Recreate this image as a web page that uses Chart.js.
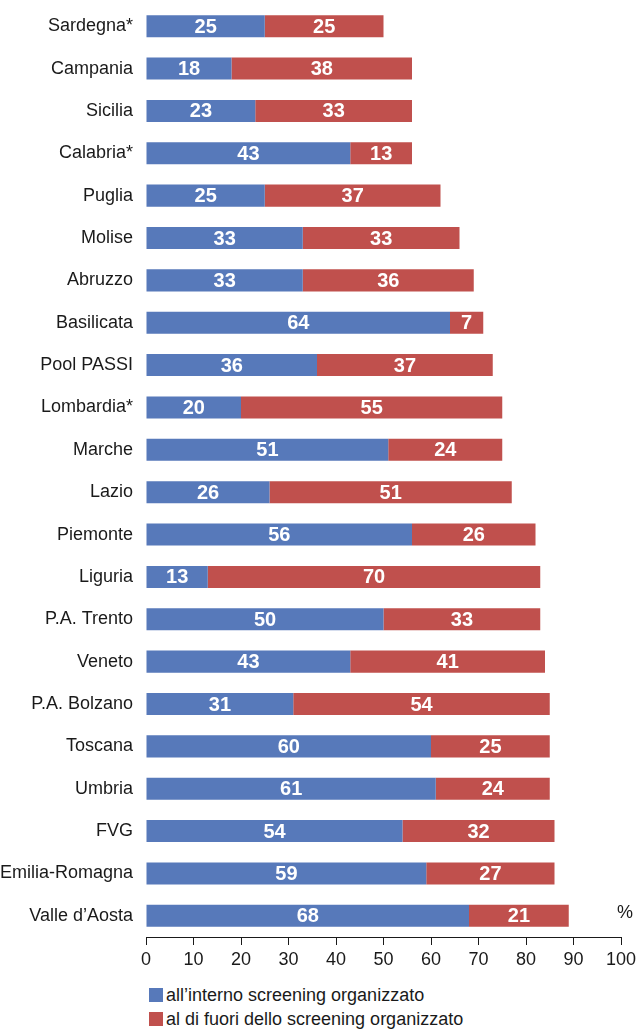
<!DOCTYPE html>
<html lang="it">
<head>
  <meta charset="UTF-8" />
  <title>Screening organizzato</title>
  <script src="https://cdn.jsdelivr.net/npm/chart.js"></script>
  <style>
    body {
      margin: 0;
      background: #fff;
      font-family: "Liberation Sans", Arial, sans-serif;
      color: #1a1a1a;
    }
    .wrap {
      position: relative;
      width: 644px;
      height: 980px;
    }
    .legend {
      position: absolute;
      left: 149px;
      top: 983px;
      font-size: 18px;
      line-height: 24px;
    }
    .legend span.box {
      display: inline-block;
      width: 14px;
      height: 14px;
      margin-right: 3px;
      vertical-align: -1px;
    }
  </style>
</head>
<body>
  <div class="wrap"><canvas id="chart"></canvas></div>
  <div class="legend" id="legend"></div>

  <script>
    const regions = ['Sardegna*', 'Campania', 'Sicilia', 'Calabria*', 'Puglia', 'Molise', 'Abruzzo',
      'Basilicata', 'Pool PASSI', 'Lombardia*', 'Marche', 'Lazio', 'Piemonte', 'Liguria',
      'P.A. Trento', 'Veneto', 'P.A. Bolzano', 'Toscana', 'Umbria', 'FVG', 'Emilia-Romagna', 'Valle d\u2019Aosta'];
    const inside = [25, 18, 23, 43, 25, 33, 33, 64, 36, 20, 51, 26, 56, 13, 50, 43, 31, 60, 61, 54, 59, 68];
    const outside = [25, 38, 33, 13, 37, 33, 36, 7, 37, 55, 24, 51, 26, 70, 33, 41, 54, 25, 24, 32, 27, 21];
    const seriesNames = ['all\u2019interno screening organizzato', 'al di fuori dello screening organizzato'];
    const xTicks = [0, 10, 20, 30, 40, 50, 60, 70, 80, 90, 100];

    const BLUE = '#5779ba';
    const RED = '#c0504d';
    const FONT = '"Liberation Sans", Arial, sans-serif';

    // white numbers in the middle of each segment
    const barLabels = {
      id: 'barLabels',
      afterDatasetsDraw(chart) {
        const ctx = chart.ctx;
        ctx.save();
        ctx.fillStyle = '#fff';
        ctx.font = 'bold 20px ' + FONT;
        ctx.textAlign = 'center';
        ctx.textBaseline = 'middle';
        chart.data.datasets.forEach((ds, i) => {
          chart.getDatasetMeta(i).data.forEach((bar, j) => {
            ctx.fillText(ds.data[j], (bar.x + bar.base) / 2, bar.y + 1);
          });
        });
        // "%" unit at the end of the axis
        ctx.fillStyle = '#1a1a1a';
        ctx.font = '18px ' + FONT;
        ctx.textAlign = 'left';
        const last = chart.getDatasetMeta(0).data[regions.length - 1];
        ctx.fillText('%', chart.chartArea.right - 4, last.y - 3);
        ctx.restore();
      }
    };

    new Chart(document.getElementById('chart'), {
      type: 'bar',
      data: {
        labels: regions,
        datasets: [
          { label: seriesNames[0], data: inside, backgroundColor: BLUE },
          { label: seriesNames[1], data: outside, backgroundColor: RED }
        ]
      },
      options: {
        indexAxis: 'y',
        responsive: true,
        maintainAspectRatio: false,
        animation: false,
        categoryPercentage: 0.52,
        barPercentage: 1,
        layout: { padding: { top: 5, right: 23, left: 0, bottom: 0 } },
        plugins: {
          legend: { display: false },
          tooltip: { enabled: false }
        },
        scales: {
          x: {
            stacked: true,
            min: 0,
            max: 100,
            afterBuildTicks: (s) => { s.ticks = xTicks.map(v => ({ value: v })); },
            afterFit: (s) => { s.height = 43; },
            grid: { drawOnChartArea: false, tickLength: 8, color: '#1a1a1a' },
            border: { display: true, color: '#1a1a1a' },
            ticks: { color: '#1a1a1a', padding: 4, font: { family: FONT, size: 18 } }
          },
          y: {
            stacked: true,
            afterFit: (s) => { s.width = 146; s.paddingTop = 0; s.paddingBottom = 0; },
            grid: { display: false },
            border: { display: false },
            ticks: { color: '#1a1a1a', padding: 5, font: { family: FONT, size: 18 } }
          }
        }
      },
      plugins: [barLabels]
    });

    const legendEl = document.getElementById('legend');
    [BLUE, RED].forEach((c, i) => {
      const row = document.createElement('div');
      row.innerHTML = '<span class="box" style="background:' + c + '"></span>' + seriesNames[i];
      legendEl.appendChild(row);
    });
  </script>
</body>
</html>
